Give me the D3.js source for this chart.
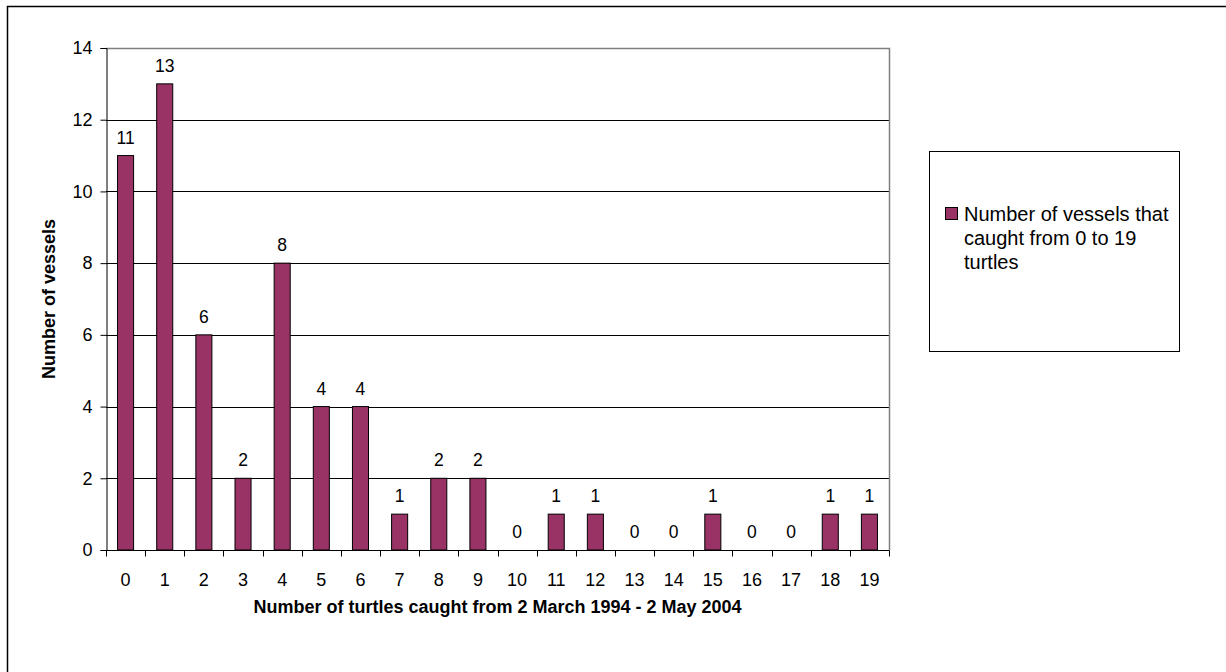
<!DOCTYPE html>
<html>
<head>
<meta charset="utf-8">
<script src="https://cdn.jsdelivr.net/npm/d3@7"></script>
<style>
  body { margin: 0; background: #fff; }
  svg { display: block; font-family: "Liberation Sans", Arial, sans-serif; }
</style>
</head>
<body>
<div id="chart"></div>
<script>
// Data
const turtlesCaught = ['0','1','2','3','4','5','6','7','8','9','10','11','12','13','14','15','16','17','18','19'];
const vesselCounts = [11, 13, 6, 2, 8, 4, 4, 1, 2, 2, 0, 1, 1, 0, 0, 1, 0, 0, 1, 1];
const yTicks = [0, 2, 4, 6, 8, 10, 12, 14];
const seriesName = ['Number of vessels that', 'caught from 0 to 19', 'turtles'];

const width = 1226;
const height = 672;
const plot = { left: 106, top: 48, right: 889, bottom: 550 };
const barColor = '#993366';
const fontFamily = '"Liberation Sans", Arial, sans-serif';

const svg = d3.select('#chart')
  .append('svg')
  .attr('width', width)
  .attr('height', height);

// outer chart frame (only top/left visible)
svg.append('path')
  .attr('d', `M7.5,${height} V6.5 H${width}`)
  .attr('fill', 'none')
  .attr('stroke', '#000')
  .attr('stroke-width', 1.5);

const x = d3.scaleBand()
  .domain(turtlesCaught)
  .range([plot.left, plot.right])
  .paddingInner(0.59)
  .paddingOuter(0.295);

const y = d3.scaleLinear()
  .domain([0, 14])
  .range([plot.bottom, plot.top]);

// gridlines
svg.append('g')
  .selectAll('line')
  .data(yTicks.filter(d => d > 0 && d < 14))
  .enter()
  .append('line')
  .attr('x1', plot.left)
  .attr('x2', plot.right)
  .attr('y1', d => Math.round(y(d)) + 0.5)
  .attr('y2', d => Math.round(y(d)) + 0.5)
  .attr('stroke', '#000')
  .attr('stroke-width', 1);

// plot area top/right border (grey)
svg.append('path')
  .attr('d', `M${plot.left},${plot.top + 0.5} H${plot.right + 0.5} V${plot.bottom}`)
  .attr('fill', 'none')
  .attr('stroke', '#808080')
  .attr('stroke-width', 1.5);

// bars
svg.append('g')
  .selectAll('rect')
  .data(vesselCounts)
  .enter()
  .append('rect')
  .attr('x', (d, i) => x(turtlesCaught[i]))
  .attr('y', d => y(d))
  .attr('width', x.bandwidth())
  .attr('height', d => y(0) - y(d))
  .attr('fill', barColor)
  .attr('stroke', '#000')
  .attr('stroke-width', d => d > 0 ? 1 : 0);

// data labels
svg.append('g')
  .selectAll('text')
  .data(vesselCounts)
  .enter()
  .append('text')
  .attr('x', (d, i) => x(turtlesCaught[i]) + x.bandwidth() / 2)
  .attr('y', d => y(d) - 12)
  .attr('text-anchor', 'middle')
  .attr('font-size', '17.5px')
  .attr('fill', '#000')
  .text(d => d);

// y axis
const yAxis = svg.append('g')
  .attr('transform', `translate(${plot.left + 0.5},0)`)
  .call(d3.axisLeft(y).tickValues(yTicks).tickSize(6).tickPadding(8));
yAxis.selectAll('path, line').attr('stroke', '#000');
yAxis.selectAll('text')
  .attr('font-size', '18px')
  .attr('font-family', fontFamily)
  .attr('fill', '#000');

// x axis: ticks between categories
const xAxisG = svg.append('g')
  .attr('transform', `translate(0,${plot.bottom + 0.5})`);
xAxisG.append('line')
  .attr('x1', plot.left)
  .attr('x2', plot.right + 0.5)
  .attr('stroke', '#000');
const step = x.step();
xAxisG.selectAll('line.tick')
  .data(d3.range(turtlesCaught.length + 1))
  .enter()
  .append('line')
  .attr('class', 'tick')
  .attr('x1', i => Math.round(plot.left + i * step) + 0.5)
  .attr('x2', i => Math.round(plot.left + i * step) + 0.5)
  .attr('y1', 0)
  .attr('y2', 6)
  .attr('stroke', '#000');
xAxisG.selectAll('text')
  .data(turtlesCaught)
  .enter()
  .append('text')
  .attr('x', d => x(d) + x.bandwidth() / 2)
  .attr('y', 35)
  .attr('text-anchor', 'middle')
  .attr('font-size', '18px')
  .attr('fill', '#000')
  .text(d => d);

// axis titles
svg.append('text')
  .attr('x', (plot.left + plot.right) / 2)
  .attr('y', 613)
  .attr('text-anchor', 'middle')
  .attr('font-size', '18px')
  .attr('font-weight', 'bold')
  .text('Number of turtles caught from 2 March 1994 - 2 May 2004');

svg.append('text')
  .attr('transform', `translate(55,${(plot.top + plot.bottom) / 2}) rotate(-90)`)
  .attr('text-anchor', 'middle')
  .attr('font-size', '18px')
  .attr('font-weight', 'bold')
  .text('Number of vessels');

// legend
const legend = svg.append('g');
legend.append('rect')
  .attr('x', 929.5)
  .attr('y', 151.5)
  .attr('width', 250)
  .attr('height', 200)
  .attr('fill', '#fff')
  .attr('stroke', '#000')
  .attr('stroke-width', 1);
legend.append('rect')
  .attr('x', 945.5)
  .attr('y', 207.5)
  .attr('width', 12)
  .attr('height', 12)
  .attr('fill', barColor)
  .attr('stroke', '#000');
legend.append('text')
  .attr('font-size', '20px')
  .attr('fill', '#000')
  .selectAll('tspan')
  .data(seriesName)
  .enter()
  .append('tspan')
  .attr('x', 964)
  .attr('y', (d, i) => 221 + i * 24)
  .text(d => d);
</script>
</body>
</html>
